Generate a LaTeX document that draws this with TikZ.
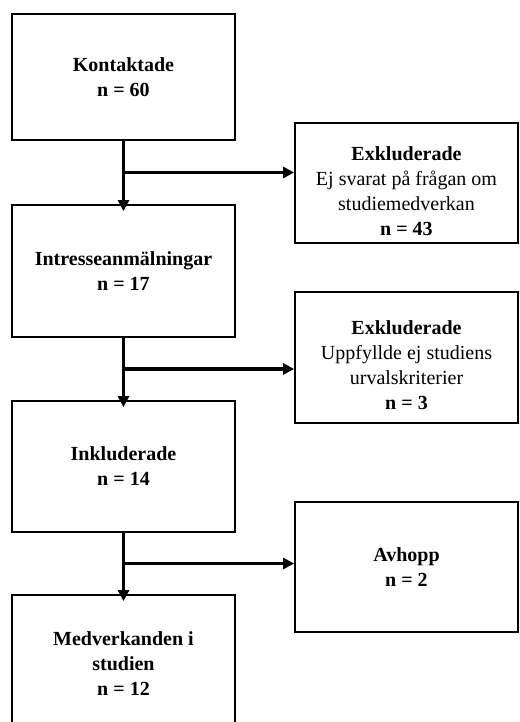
\documentclass[tikz,border=0pt]{standalone}
\usepackage{fontspec}
\setmainfont{Liberation Serif}
\usetikzlibrary{arrows.meta, calc}

\begin{document}
\begin{tikzpicture}[
    x=1pt, y=-1pt,
    box/.style={rectangle, draw=black, line width=1.8pt, minimum width=223pt, align=center, inner sep=0pt, font=\fontsize{20}{25}\selectfont},
    arrow/.style={-{Triangle[length=11pt, width=11pt]}, line width=3.5pt},
    down/.style={arrow, shorten >=-7pt},
]

% Frame (same size as the reference)
\useasboundingbox (0, 0) rectangle (519, 722);
\clip (0, 0) rectangle (519, 722);

% Main flow (left column)
\node[box, minimum height=126pt] (kontakt) at (123.5, 77) {\textbf{Kontaktade}\\\textbf{n = 60}};
\node[box, minimum height=132pt] (intresse) at (123.5, 271) {\textbf{Intresseanmälningar}\\\textbf{n = 17}};
\node[box, minimum height=131pt] (inkl) at (123.5, 466.5) {\textbf{Inkluderade}\\\textbf{n = 14}};
\node[box, minimum height=138pt] (medv) at (123.5, 664) {\textbf{Medverkanden i}\\\textbf{studien}\\\textbf{n = 12}};

% Exclusions (right column)
\node[box, minimum height=120pt] (exkl1) at (406.5, 183) {\rule{0pt}{30pt}\textbf{Exkluderade}\\Ej svarat på frågan om\\studiemedverkan\\\textbf{n = 43}};
\node[box, minimum height=131pt] (exkl2) at (406.5, 357.5) {\rule{0pt}{30pt}\textbf{Exkluderade}\\Uppfyllde ej studiens\\urvalskriterier\\\textbf{n = 3}};
\node[box, minimum height=130pt] (avhopp) at (406.5, 567) {\textbf{Avhopp}\\\textbf{n = 2}};

% Branch points
\coordinate (b1) at ($(kontakt.south)!0.5!(intresse.north)$);
\coordinate (b2) at ($(intresse.south)!0.5!(inkl.north)$);
\coordinate (b3) at ($(inkl.south)!0.5!(medv.north)$);

% Vertical arrows
\draw[down] (kontakt.south) -- (intresse.north);
\draw[down] (intresse.south) -- (inkl.north);
\draw[down] (inkl.south) -- (medv.north);

% Horizontal arrows
\draw[arrow] (b1) -- (b1 -| exkl1.west);
\draw[arrow] (b2) -- (b2 -| exkl2.west);
\draw[arrow] (b3) -- (b3 -| avhopp.west);

\end{tikzpicture}
\end{document}
